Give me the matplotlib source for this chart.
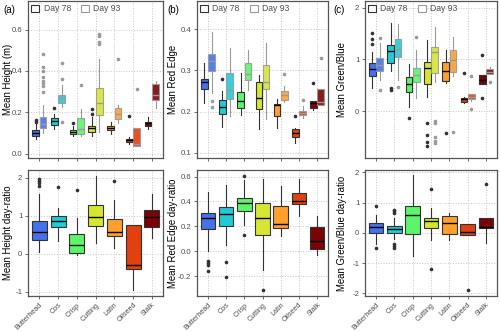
import numpy as np
import matplotlib.pyplot as plt
from matplotlib.patches import Patch

plt.rcParams['font.family'] = ['Liberation Sans', 'DejaVu Sans']

cultivars = ['Butterhead', 'Cos', 'Crisp', 'Cutting', 'Latin', 'Oilseed', 'Stalk']
colors = ['#4472EA', '#22C9D6', '#5CF56A', '#D5E531', '#FF9F2E', '#E2400F', '#7B0303']

# (whislo, q1, median, q3, whishi) per cultivar
height_d78 = [(0.073, 0.086, 0.099, 0.113, 0.143), (0.118, 0.139, 0.156, 0.170, 0.19),
              (0.086, 0.097, 0.107, 0.115, 0.135), (0.086, 0.105, 0.123, 0.133, 0.175),
              (0.097, 0.113, 0.126, 0.135, 0.154), (0.049, 0.057, 0.065, 0.073, 0.081),
              (0.118, 0.135, 0.146, 0.154, 0.178)]
height_d78_out = [[0.164, 0.152], [0.22], [0.15], [0.214, 0.19], [], [0.183], []]
height_d93 = [(0.10, 0.123, 0.143, 0.175, 0.235), (0.227, 0.245, 0.27, 0.284, 0.33),
              (0.086, 0.094, 0.118, 0.172, 0.216), (0.107, 0.185, 0.243, 0.318, 0.459),
              (0.146, 0.167, 0.191, 0.219, 0.235), (0.037, 0.037, 0.045, 0.126, 0.126),
              (0.22, 0.261, 0.284, 0.337, 0.353)]
height_d93_out = [[0.48, 0.42, 0.40, 0.37, 0.35, 0.34, 0.325, 0.30], [0.437, 0.36, 0.155],
                  [0.33], [0.58, 0.568, 0.54, 0.532], [0.456], [0.313], []]

redge_d78 = [(0.222, 0.254, 0.273, 0.279, 0.317), (0.163, 0.193, 0.212, 0.227, 0.25),
             (0.192, 0.208, 0.225, 0.247, 0.295), (0.157, 0.206, 0.232, 0.273, 0.289),
             (0.161, 0.189, 0.215, 0.218, 0.231), (0.124, 0.139, 0.147, 0.157, 0.159),
             (0.205, 0.208, 0.222, 0.226, 0.226)]
redge_d78_out = [[], [0.279], [], [], [], [0.188], [0.269]]
redge_d93 = [(0.244, 0.299, 0.324, 0.340, 0.394), (0.188, 0.23, 0.252, 0.293, 0.355),
             (0.252, 0.277, 0.291, 0.317, 0.35), (0.181, 0.254, 0.273, 0.313, 0.366),
             (0.224, 0.227, 0.24, 0.251, 0.262), (0.184, 0.192, 0.197, 0.201, 0.214),
             (0.216, 0.216, 0.224, 0.254, 0.254)]
redge_d93_out = [[0.226, 0.212], [], [], [], [0.291], [0.228], [0.33]]

gb_d78 = [(0.44, 0.684, 0.82, 0.923, 1.15), (0.77, 0.935, 1.16, 1.28, 1.70),
          (0.084, 0.374, 0.516, 0.65, 0.91), (0.277, 0.523, 0.826, 0.955, 1.37),
          (0.535, 0.587, 0.78, 0.955, 1.18), (0.16, 0.18, 0.226, 0.258, 0.27),
          (0.52, 0.52, 0.6, 0.70, 0.70)]
gb_d78_out = [[1.52, 1.39, 1.29], [0.44, 0.41], [-0.13], [-0.24, -0.46, -0.6, -0.67],
              [-0.42], [0.73], [1.08, 0.245]]
gb_d93 = [(0.6, 0.774, 0.89, 1.02, 1.31), (0.6, 1.04, 1.21, 1.39, 1.68),
          (0.245, 0.568, 0.697, 0.826, 1.18), (0.57, 0.73, 1.15, 1.245, 1.63),
          (0.68, 0.76, 0.99, 1.18, 1.44), (0.2, 0.23, 0.28, 0.32, 0.32),
          (0.716, 0.716, 0.76, 0.81, 0.86)]
gb_d93_out = [[1.42, 0.41], [0.46], [1.43], [-0.2, -0.24, -0.5, -0.58, -0.61],
              [-0.4], [0.68, 0.04], [0.57]]

height_ratio = [(0.052, 0.348, 0.565, 0.852, 1.565), (0.33, 0.704, 0.852, 1.0, 1.2),
                (-0.04, 0.026, 0.217, 0.52, 0.94), (0.287, 0.722, 0.965, 1.287, 2.03),
                (0.14, 0.461, 0.565, 0.913, 1.417), (-0.95, -0.409, -0.304, 0.757, 0.757),
                (0.417, 0.696, 0.957, 1.14, 1.565)]
height_ratio_out = [[1.96, 1.91, 1.85, 1.79], [1.765], [1.68], [], [1.91], [], []]

redge_ratio = [(0.005, 0.179, 0.267, 0.307, 0.475), (0.053, 0.2, 0.301, 0.355, 0.533),
               (0.213, 0.32, 0.387, 0.427, 0.573), (-0.147, 0.128, 0.267, 0.387, 0.581),
               (0.125, 0.187, 0.219, 0.365, 0.528), (0.28, 0.379, 0.405, 0.467, 0.581),
               (-0.032, 0.021, 0.085, 0.195, 0.285)]
redge_ratio_out = [[-0.08, -0.093, -0.107, -0.155], [-0.085, -0.208], [0.605, 0.133],
                   [-0.315], [], [], []]

gb_ratio = [(-0.38, 0.0, 0.186, 0.328, 0.6), (-0.22, 0.0, 0.131, 0.219, 0.49),
            (-0.765, -0.033, 0.579, 0.874, 1.91), (-0.25, 0.164, 0.404, 0.49, 0.82),
            (-0.25, -0.055, 0.328, 0.546, 0.656), (-0.076, -0.076, 0.033, 0.295, 0.295),
            (-0.33, 0.142, 0.197, 0.49, 0.49)]
gb_ratio_out = [[0.874, -0.49], [0.765, 0.71, 0.656, -0.383, -0.437, -0.49], [],
                [1.44, -1.2], [], [-1.89], [1.6]]


def make_stats(rows, outs):
    return [dict(whislo=r[0], q1=r[1], med=r[2], q3=r[3], whishi=r[4], fliers=o)
            for r, o in zip(rows, outs)]


def draw(ax, rows, outs, pos, width, line, med, alpha, fsize):
    bp = ax.bxp(make_stats(rows, outs), positions=pos, widths=width, patch_artist=True,
                showcaps=False, manage_ticks=False,
                boxprops=dict(edgecolor=line, linewidth=0.8),
                whiskerprops=dict(color=line, linewidth=0.8),
                medianprops=dict(color=med, linewidth=1.0),
                flierprops=dict(marker='o', markersize=fsize, markerfacecolor=line,
                                markeredgecolor=line, linestyle='none'))
    for patch, c in zip(bp['boxes'], colors):
        patch.set_facecolor(c)
        patch.set_alpha(alpha)
        patch.set_edgecolor(line)


def style(ax, ylim, yticks, ytlabels, labelx, ylabel):
    ax.set_xlim(0.4, 7.6)
    ax.set_ylim(*ylim)
    ax.set_xticks(np.arange(1, 8))
    ax.set_yticks(yticks)
    ax.set_yticklabels(ytlabels)
    ax.grid(True, color='#C8C8C8', linestyle=':', linewidth=0.7)
    ax.set_axisbelow(True)
    for s in ax.spines.values():
        s.set_color('#555555')
        s.set_linewidth(0.9)
    ax.tick_params(colors='#555555', labelcolor='#4D4D4D', labelsize=5.6,
                   length=2.5, width=0.6, pad=1.5)
    ax.set_ylabel(ylabel, fontsize=6.9, color='black')
    ax.yaxis.set_label_coords(labelx, 0.5)


fig = plt.figure(figsize=(5.0, 3.32), dpi=100)
W, H = 500.0, 332.0
lefts = [28, 197, 365]
rights = [163, 328, 497]

top_data = [(height_d78, height_d78_out, height_d93, height_d93_out),
            (redge_d78, redge_d78_out, redge_d93, redge_d93_out),
            (gb_d78, gb_d78_out, gb_d93, gb_d93_out)]
bot_data = [(height_ratio, height_ratio_out), (redge_ratio, redge_ratio_out),
            (gb_ratio, gb_ratio_out)]
top_lim = [(-0.021, 0.738), (0.087, 0.469), (-0.91, 2.13)]
top_ticks = [[0.0, 0.2, 0.4, 0.6], [0.1, 0.2, 0.3, 0.4], [0, 1, 2]]
top_tl = [['0.0', '0.2', '0.4', '0.6'], ['0.1', '0.2', '0.3', '0.4'], ['0', '1', '2']]
bot_lim = [(-1.11, 2.2), (-0.36, 0.653), (-2.09, 2.075)]
bot_ticks = [[-1, 0, 1, 2], [-0.2, 0.0, 0.2, 0.4, 0.6], [-2, -1, 0, 1, 2]]
bot_tl = [['-1', '0', '1', '2'], ['-0.2', '0.0', '0.2', '0.4', '0.6'],
          ['-2', '-1', '0', '1', '2']]
top_labels = ['Mean Height (m)', 'Mean Red Edge', 'Mean Green/Blue']
bot_labels = ['Mean Height day-ratio', 'Mean Red Edge day-ratio', 'Mean Green/Blue day-ratio']
label_x = [13, 178, 347]  # right edge of the rotated y label, in pixels
panel_tags = ['(a)', '(b)', '(c)']
tag_x = [3, 167, 333]

x = np.arange(1, 8)
for i in range(3):
    l, r = lefts[i], rights[i]
    ax1 = fig.add_axes([l / W, 1 - 158 / H, (r - l) / W, 157 / H])
    d78, o78, d93, o93 = top_data[i]
    draw(ax1, d78, o78, x - 0.2, 0.36, '#333333', 'black', 1.0, 1.6)
    draw(ax1, d93, o93, x + 0.2, 0.36, '#9A9A9A', '#9A9A9A', 0.9, 1.6)
    style(ax1, top_lim[i], top_ticks[i], top_tl[i], (label_x[i] - l) / (r - l), top_labels[i])
    ax1.set_xticklabels([])
    handles = [Patch(facecolor='white', edgecolor='#333333', linewidth=0.8, label='Day 78'),
               Patch(facecolor='white', edgecolor='#9A9A9A', linewidth=0.8, label='Day 93')]
    leg = ax1.legend(handles=handles, loc='upper left', ncol=2, frameon=False,
                     fontsize=6.2, handlelength=0.9, handleheight=0.8, handletextpad=0.5,
                     columnspacing=1.2, borderaxespad=0.2, borderpad=0.2)
    for t in leg.get_texts():
        t.set_color('#4D4D4D')
    fig.text(tag_x[i] / W, 1 - 10 / H, panel_tags[i], fontsize=7, va='center')

    ax2 = fig.add_axes([l / W, 1 - 296 / H, (r - l) / W, 126 / H])
    rat, rout = bot_data[i]
    draw(ax2, rat, rout, x, 0.8, '#333333', 'black', 1.0, 1.6)
    style(ax2, bot_lim[i], bot_ticks[i], bot_tl[i], (label_x[i] - l) / (r - l), bot_labels[i])
    ax2.set_xticklabels(cultivars, rotation=45, ha='right', rotation_mode='anchor',
                        fontsize=5.2)

plt.savefig('out.png', dpi=100)
